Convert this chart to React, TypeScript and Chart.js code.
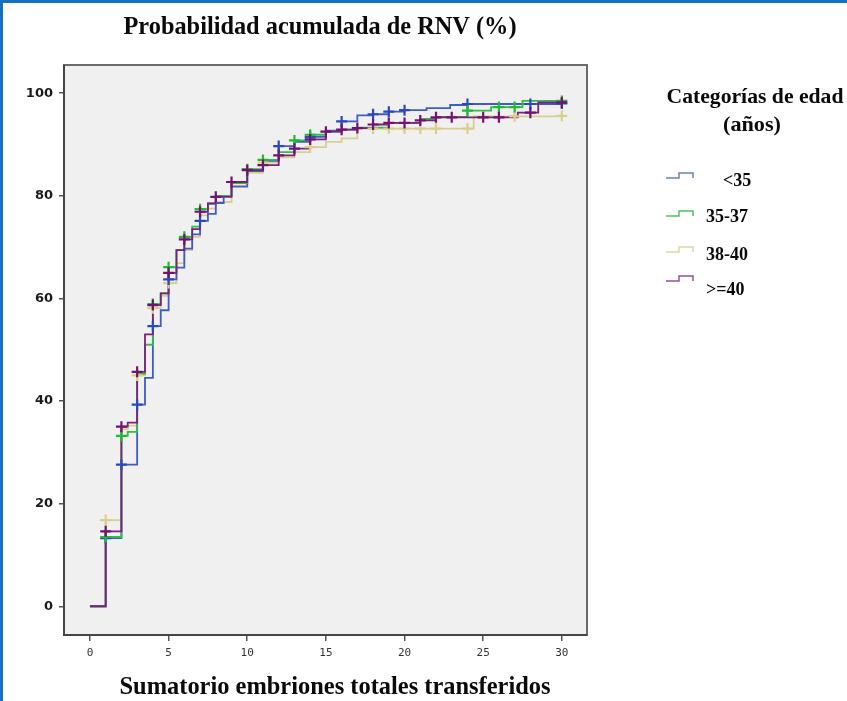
import React, { useEffect, useRef } from "react";
import { Chart, registerables } from "chart.js";

Chart.register(...registerables);

// ---- Data ----
const chartTitle = "Probabilidad acumulada de RNV (%)";
const xAxisTitle = "Sumatorio embriones totales transferidos";
const legendTitle = ["Categorías de edad", "(años)"];
const seriesLabels = ["<35", "35-37", "38-40", ">=40"];

const xTicks = [0, 5, 10, 15, 20, 25, 30];
const yTicks = [0, 20, 40, 60, 80, 100];

// <35
const blueX = [0, 1, 2, 3, 3.5, 4, 4.5, 5, 5.5, 6, 6.5, 7, 7.5, 8, 8.5, 9, 10, 11, 12, 13, 14, 15, 16, 17, 18, 19, 20, 21.4, 22.9, 24, 30];
const blueY = [0, 13.3, 27.6, 39.3, 44.5, 54.6, 57.7, 63.7, 66.0, 69.7, 72.5, 75.1, 76.5, 78.6, 80.0, 81.8, 84.8, 86.8, 89.7, 90.5, 91.5, 92.7, 94.5, 95.7, 95.9, 96.4, 96.7, 97.1, 97.7, 97.9, 98.0];
const blueCens = [1, 2, 3, 4, 5, 7, 12, 14, 16, 18, 19, 20, 24, 28, 30];

// 35-37
const greenX = [0, 1, 2, 2.4, 3, 3.5, 4, 4.5, 5, 5.5, 6, 6.5, 7, 7.5, 8, 9, 10, 11, 12, 13, 14, 15, 16, 17, 19, 21, 22, 24, 25.5, 27.5, 30];
const greenY = [0, 13.5, 33.2, 34.0, 45.3, 51.0, 58.9, 61.0, 66.1, 69.4, 72.0, 74.0, 77.4, 78.5, 80.0, 82.5, 85.2, 87.0, 88.5, 90.8, 91.9, 92.5, 92.9, 93.3, 94.2, 95.0, 95.4, 96.6, 97.3, 98.5, 98.5];
const greenCens = [1, 2, 4, 5, 6, 7, 10, 11, 13, 14, 24, 26, 27, 30];

// 38-40
const yellowX = [0, 1, 2, 2.4, 3, 3.5, 4, 4.5, 5, 5.5, 6, 6.5, 7, 7.5, 8, 9, 10, 11, 12, 13, 14, 15, 16, 17, 24.4, 30];
const yellowY = [0, 16.8, 34.5, 35.2, 45.0, 50.9, 58.1, 60.5, 63.0, 66.9, 69.4, 72.0, 76.2, 77.5, 78.8, 82.0, 84.5, 86.5, 87.5, 88.5, 89.5, 90.5, 91.2, 93.1, 95.5, 95.6];
const yellowCens = [1, 3, 4, 5, 11, 14, 18, 19, 20, 21, 22, 24, 27, 30];

// >=40
const purpleX = [0, 1, 2, 2.4, 3, 3.5, 4, 4.5, 5, 5.5, 6, 6.5, 7, 7.5, 8, 9, 10, 11, 12, 13, 14, 15, 16, 17, 18, 19, 21, 22, 27.2, 28.5, 30];
const purpleY = [0, 14.6, 35.0, 35.8, 45.7, 53.0, 58.7, 61.0, 65.0, 69.4, 71.5, 73.5, 76.9, 78.5, 79.8, 82.7, 85.0, 86.0, 87.9, 89.2, 91.0, 92.5, 92.9, 93.2, 93.9, 94.2, 94.7, 95.3, 96.2, 98.2, 98.2];
const purpleCens = [1, 2, 3, 4, 5, 6, 7, 8, 9, 10, 11, 12, 13, 14, 15, 16, 17, 18, 19, 20, 21, 22, 23, 25, 26, 28, 30];

const lineColors = ["#3d5cc4", "#2fbd44", "#d6cf8e", "#7d1f7d"];
const crossColors = ["#2a48c0", "#22bb33", "#d8d08a", "#731273"];
const legendColors = ["#6a80cc", "#4fc262", "#dcd8a8", "#984f98"];

function stepValue(xs: number[], ys: number[], x: number) {
  let v = ys[0];
  for (let i = 0; i < xs.length; i++) if (xs[i] <= x + 1e-9) v = ys[i];
  return v;
}

const series = [
  { xs: blueX, ys: blueY, cens: blueCens },
  { xs: greenX, ys: greenY, cens: greenCens },
  { xs: yellowX, ys: yellowY, cens: yellowCens },
  { xs: purpleX, ys: purpleY, cens: purpleCens },
];

// drawing order: lower "order" is drawn on top
const lineOrder = [6, 5, 7, 4];
const crossOrder = [2, 1, 3, 0];

function buildDatasets() {
  const ds: any[] = [];
  series.forEach((s, i) => {
    ds.push({
      label: seriesLabels[i],
      data: s.xs.map((x, k) => ({ x, y: s.ys[k] })),
      stepped: true,
      borderColor: lineColors[i],
      borderWidth: 1.8,
      pointRadius: 0,
      fill: false,
      order: lineOrder[i],
    });
    ds.push({
      label: seriesLabels[i] + " censurado",
      data: s.cens.map((x) => ({ x, y: stepValue(s.xs, s.ys, x) })),
      showLine: false,
      pointStyle: "cross",
      pointRadius: 5.5,
      pointBorderWidth: 2.2,
      pointBorderColor: crossColors[i],
      borderColor: crossColors[i],
      order: crossOrder[i],
    });
  });
  return ds;
}

function fitText(ctx: CanvasRenderingContext2D, text: string, cx: number, cy: number, size: number, width: number) {
  ctx.font = `bold ${size}px 'Liberation Serif'`;
  const w = ctx.measureText(text).width;
  const sx = width / w;
  ctx.save();
  ctx.translate(cx, cy);
  ctx.scale(sx, 1);
  ctx.textAlign = "center";
  ctx.textBaseline = "middle";
  ctx.fillText(text, 0, 0);
  ctx.restore();
}

const decor = {
  id: "decor",
  beforeDraw(chart: any) {
    const { ctx, chartArea: a } = chart;
    ctx.save();
    ctx.fillStyle = "#ffffff";
    ctx.fillRect(0, 0, chart.width, chart.height);
    // blue frame
    ctx.fillStyle = "#1670c2";
    ctx.fillRect(0, 0, 3, chart.height);
    ctx.fillRect(0, 0, chart.width, 3);
    // plot background
    ctx.fillStyle = "#f0f0f0";
    ctx.fillRect(a.left, a.top, a.right - a.left, a.bottom - a.top);
    ctx.restore();
  },
  afterDraw(chart: any) {
    const { ctx, chartArea: a } = chart;
    ctx.save();
    // frame of the plot
    ctx.strokeStyle = "#6a6a6a";
    ctx.lineWidth = 2;
    ctx.strokeRect(a.left, a.top, a.right - a.left, a.bottom - a.top);
    ctx.strokeStyle = "#444";
    ctx.beginPath();
    ctx.moveTo(a.left, a.top);
    ctx.lineTo(a.left, a.bottom);
    ctx.lineTo(a.right, a.bottom);
    ctx.stroke();

    ctx.fillStyle = "#0a0a0a";
    fitText(ctx, chartTitle, 320, 28, 25, 393);
    fitText(ctx, xAxisTitle, 335, 688, 25, 431);

    // legend
    fitText(ctx, legendTitle[0], 755, 97, 22, 177);
    fitText(ctx, legendTitle[1], 752, 125, 22, 58);

    const iconY = [178, 216, 252, 281];
    const textY = [181, 217, 255, 290];
    const textX = [723, 706, 706, 706];
    ctx.font = "bold 18px 'Liberation Serif'";
    ctx.textAlign = "left";
    ctx.textBaseline = "middle";
    for (let i = 0; i < 4; i++) {
      const y = iconY[i];
      ctx.strokeStyle = legendColors[i];
      ctx.lineWidth = 1.5;
      ctx.beginPath();
      ctx.moveTo(666, y);
      ctx.lineTo(679, y);
      ctx.lineTo(679, y - 5);
      ctx.lineTo(693, y - 5);
      ctx.lineTo(693, y);
      ctx.stroke();
      ctx.fillStyle = "#0a0a0a";
      ctx.fillText(seriesLabels[i], textX[i], textY[i]);
    }
    ctx.restore();
  },
};

export default function App() {
  const ref = useRef<HTMLCanvasElement>(null);
  useEffect(() => {
    const canvas = ref.current!;
    const chart = new Chart(canvas, {
      type: "line",
      data: { datasets: buildDatasets() },
      options: {
        animation: false,
        responsive: false,
        devicePixelRatio: 1,
        layout: { padding: { top: 65, right: 260, left: 0, bottom: 0 } },
        plugins: {
          legend: { display: false },
          tooltip: { enabled: false },
          title: { display: false },
        },
        scales: {
          x: {
            type: "linear",
            min: -1.65,
            max: 31.6,
            afterBuildTicks: (s: any) => {
              s.ticks = xTicks.map((v) => ({ value: v }));
            },
            afterFit: (s: any) => {
              s.height = 66;
            },
            grid: { display: true, drawOnChartArea: false, drawTicks: true, tickLength: 6, color: "#555", lineWidth: 1.5 },
            border: { display: true, color: "#555", width: 2 },
            ticks: {
              font: { family: "'DejaVu Sans Mono'", size: 11 },
              color: "#333",
              padding: 6,
              maxRotation: 0,
              autoSkip: false,
            },
          },
          y: {
            type: "linear",
            min: -5.6,
            max: 105.5,
            afterBuildTicks: (s: any) => {
              s.ticks = yTicks.map((v) => ({ value: v }));
            },
            afterFit: (s: any) => {
              s.width = 64;
            },
            grid: { display: true, drawOnChartArea: false, drawTicks: true, tickLength: 5, color: "#555", lineWidth: 1.5 },
            border: { display: true, color: "#555", width: 2 },
            ticks: {
              font: { family: "'DejaVu Sans'", size: 13, weight: "bold" },
              color: "#1a1a1a",
              padding: 6,
            },
          },
        },
      } as any,
      plugins: [decor],
    });
    return () => chart.destroy();
  }, []);
  return (
    <div style={{ position: "fixed", left: 0, top: 0, width: 847, height: 701, background: "#fff" }}>
      <canvas ref={ref} width={847} height={701} style={{ display: "block", width: 847, height: 701 }} />
    </div>
  );
}
